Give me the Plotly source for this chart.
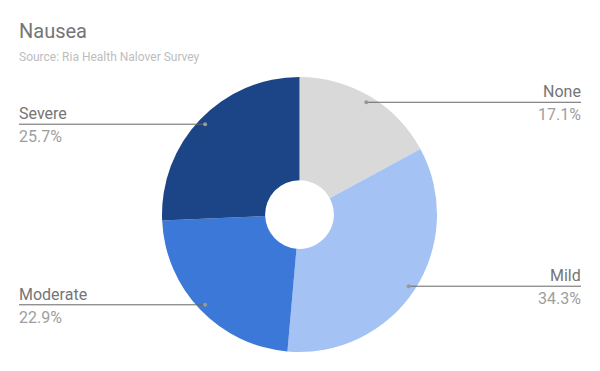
import math
import plotly.graph_objects as go

categories = ["None", "Mild", "Moderate", "Severe"]
values = [17.1, 34.3, 22.9, 25.7]
colors = ["#d9d9d9", "#a4c2f4", "#3c78d8", "#1c4587"]
title_text = "Nausea"
subtitle_text = "Source: Ria Health Nalover Survey"

W, H = 600, 371
cx, cy, R = 299.5, 214.5, 137.5   # pie centre/radius in pixels
hole = 0.25


def px(x):
    return x / W


def py(y):
    return 1 - y / H


fig = go.Figure(go.Pie(
    labels=categories, values=values, sort=False, direction="clockwise",
    rotation=0, hole=hole, marker=dict(colors=colors, line=dict(width=0)),
    textinfo="none", hoverinfo="label+percent", showlegend=False,
    domain=dict(x=[px(cx - R), px(cx + R)], y=[py(cy + R), py(cy - R)]),
))

shapes = []
annotations = []
total = sum(values)
cum = 0.0
for cat, v in zip(categories, values):
    mid = (cum + v / 2) / total * 2 * math.pi
    cum += v
    rho = 0.95 * R
    dx = cx + rho * math.sin(mid)
    dy = cy - rho * math.cos(mid)
    right = math.sin(mid) > 0
    x_end = 581 if right else 19
    tx = x_end + 2 if right else x_end - 2
    shapes.append(dict(type="line", xref="paper", yref="paper",
                       x0=px(dx), x1=px(x_end), y0=py(dy), y1=py(dy),
                       line=dict(color="#666666", width=1)))
    shapes.append(dict(type="circle", xref="paper", yref="paper",
                       x0=px(dx - 2), x1=px(dx + 2), y0=py(dy + 2), y1=py(dy - 2),
                       fillcolor="#999999", line=dict(width=0)))
    anchor = "right" if right else "left"
    annotations.append(dict(text=cat, xref="paper", yref="paper",
                            x=px(tx), y=py(dy + 1), xanchor=anchor, yanchor="bottom",
                            showarrow=False,
                            font=dict(family="Roboto", size=16, color="#757575")))
    pct = f"{v / total * 100:.1f}%"
    annotations.append(dict(text=pct, xref="paper", yref="paper",
                            x=px(tx), y=py(dy + 1), xanchor=anchor, yanchor="top",
                            showarrow=False,
                            font=dict(family="Roboto", size=16, color="#9e9e9e")))

annotations.append(dict(text=title_text, xref="paper", yref="paper",
                        x=px(17), y=py(31), xanchor="left", yanchor="middle",
                        showarrow=False,
                        font=dict(family="Roboto", size=20, color="#757575")))
annotations.append(dict(text=subtitle_text, xref="paper", yref="paper",
                        x=px(17), y=py(57), xanchor="left", yanchor="middle",
                        showarrow=False,
                        font=dict(family="Roboto", size=12, color="#bdbdbd")))

fig.update_layout(width=W, height=H, margin=dict(l=0, r=0, t=0, b=0),
                  paper_bgcolor="white", plot_bgcolor="white",
                  shapes=shapes, annotations=annotations)

fig.write_html("out.html")
